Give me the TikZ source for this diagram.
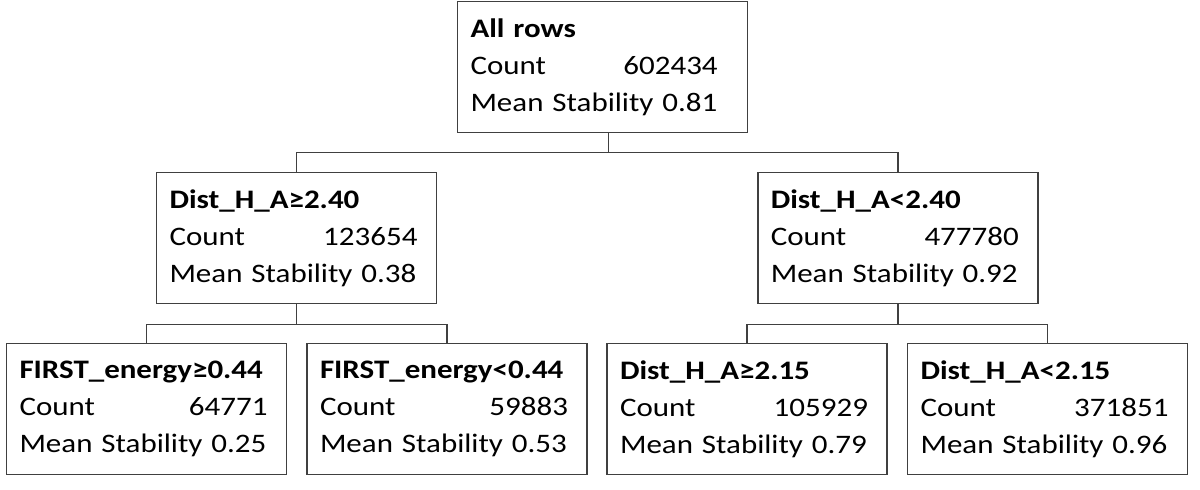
\documentclass[tikz,border=0pt]{standalone}
\usepackage{fontspec}
\setmainfont{Carlito}[FakeStretch=1.16]
\usepackage{tikz}
\usetikzlibrary{positioning}
\definecolor{frame}{HTML}{404040}

\tikzset{
  split/.style={draw=frame,line width=1.3pt,rectangle,align=left,text width=6.35cm,
    minimum height=3.275cm,inner xsep=0.325cm,font=\fontsize{19}{26.3}\selectfont},
  link/.style={draw=frame,line width=1.3pt}
}

\begin{document}
\begin{tikzpicture}
\useasboundingbox (0,0) rectangle (30,-12.225);
% tree nodes
\node[split,text width=6.6cm] (allrows) at (15.0625,-1.675) {\textbf{All rows}\\Count\hfill 602434\rule{0.42cm}{0pt}\\Mean Stability 0.81};
\node[split] (distge) at (7.4125,-5.95) {\textbf{Dist\_H\_A≥2.40}\\Count\hfill 123654\rule{0.15cm}{0pt}\\Mean Stability 0.38};
\node[split] (distlt) at (22.445,-5.95) {\textbf{Dist\_H\_A<2.40}\\Count\hfill 477780\rule{0.15cm}{0pt}\\Mean Stability 0.92};
\node[split] (firstge) at (3.6625,-10.225) {\textbf{FIRST\_energy≥0.44}\\Count\hfill 64771\rule{0.15cm}{0pt}\\Mean Stability 0.25};
\node[split] (firstlt) at (11.175,-10.225) {\textbf{FIRST\_energy<0.44}\\Count\hfill 59883\rule{0.15cm}{0pt}\\Mean Stability 0.53};
\node[split] (hage) at (18.675,-10.225) {\textbf{Dist\_H\_A≥2.15}\\Count\hfill 105929\rule{0.15cm}{0pt}\\Mean Stability 0.79};
\node[split] (halt) at (26.1875,-10.225) {\textbf{Dist\_H\_A<2.15}\\Count\hfill 371851\rule{0.15cm}{0pt}\\Mean Stability 0.96};
% connectors
\draw[link] ([xshift=0.15cm]allrows.south) -- ++(0,-0.475) coordinate (j0);
\draw[link] (distge.north) |- (j0) -| (distlt.north);
\draw[link] (distge.south) -- ++(0,-0.5) coordinate (j1);
\draw[link] (firstge.north) |- (j1) -| (firstlt.north);
\draw[link] (distlt.south) -- ++(0,-0.5) coordinate (j2);
\draw[link] (hage.north) |- (j2) -| (halt.north);
\end{tikzpicture}
\end{document}
